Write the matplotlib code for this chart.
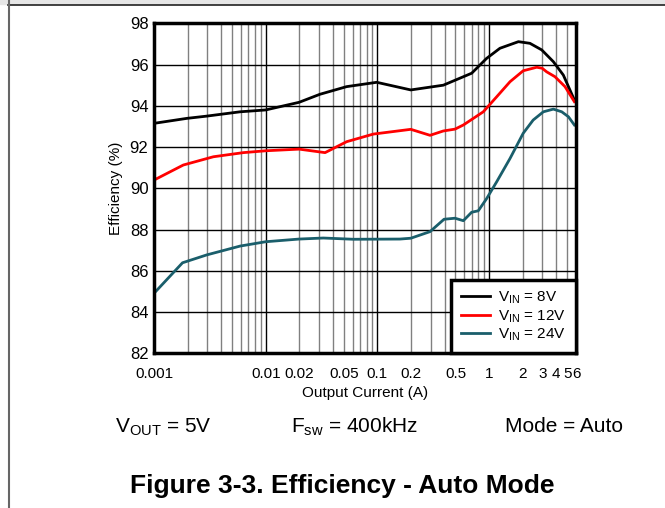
import numpy as np
import matplotlib
matplotlib.use("Agg")
from matplotlib import pyplot as plt
from matplotlib.ticker import FixedLocator, LogLocator, NullFormatter
from matplotlib.patches import Rectangle
from matplotlib.lines import Line2D

plt.rcParams['font.family'] = ['Liberation Sans', 'DejaVu Sans']
plt.rcParams['mathtext.fontset'] = 'custom'
plt.rcParams['mathtext.rm'] = 'Liberation Sans'

# dados (corrente em A, eficiencia em %)
i_8v = [0.001, 0.00196, 0.00296, 0.0059, 0.01, 0.0199, 0.0306, 0.053, 0.0986, 0.199,
        0.389, 0.698, 0.95, 1.25, 1.83, 2.32, 2.96, 3.76, 4.62, 5.8]
ef_8v = [93.15, 93.39, 93.5, 93.71, 93.8, 94.17, 94.56, 94.93, 95.14, 94.77,
         95.0, 95.58, 96.3, 96.79, 97.11, 97.03, 96.71, 96.14, 95.49, 94.28]

i_12v = [0.001, 0.00183, 0.0034, 0.0063, 0.01, 0.0199, 0.034, 0.053, 0.092, 0.199,
         0.296, 0.389, 0.495, 0.588, 0.887, 1.17, 1.54, 2.02, 2.67, 2.99, 3.27, 3.89, 4.78, 5.8]
ef_12v = [90.4, 91.13, 91.53, 91.73, 91.82, 91.9, 91.73, 92.26, 92.63, 92.86,
          92.57, 92.78, 92.87, 93.07, 93.71, 94.44, 95.17, 95.7, 95.87, 95.82, 95.65, 95.41, 94.93, 94.2]

i_24v = [0.001, 0.0018, 0.00296, 0.0059, 0.01, 0.0199, 0.0328, 0.061, 0.159, 0.199,
         0.296, 0.395, 0.495, 0.588, 0.698, 0.8, 0.95, 1.17, 1.54, 2.02, 2.48, 3.06, 3.76, 4.47, 5.13, 5.8]
ef_24v = [84.91, 86.39, 86.77, 87.2, 87.41, 87.54, 87.59, 87.53, 87.54, 87.58,
          87.9, 88.5, 88.55, 88.43, 88.84, 88.91, 89.5, 90.32, 91.45, 92.67, 93.31, 93.71, 93.84, 93.71, 93.47, 93.07]

x_ticks = [0.001, 0.01, 0.02, 0.05, 0.1, 0.2, 0.5, 1, 2, 3, 4, 5, 6]
x_tick_labels = ["0.001", "0.01", "0.02", "0.05", "0.1", "0.2", "0.5", "1", "2", "3", "4", "5", "6"]
y_ticks = [82, 84, 86, 88, 90, 92, 94, 96, 98]

series = [
    (i_8v, ef_8v, "#000000", r"V$_{\mathregular{IN}}$ = 8V"),
    (i_12v, ef_12v, "#ff0000", r"V$_{\mathregular{IN}}$ = 12V"),
    (i_24v, ef_24v, "#1a5e6b", r"V$_{\mathregular{IN}}$ = 24V"),
]

fig = plt.figure(figsize=(6.65, 5.08), dpi=100)
ax = fig.add_axes([0.2316, 0.3045, 0.6346, 0.6496])

ax.set_xscale("log")
ax.set_xlim(0.001, 6)
ax.set_ylim(82, 98)

# grade: decadas em preto, subdivisoes em cinza
ax.xaxis.set_major_locator(FixedLocator([0.001, 0.01, 0.1, 1]))
ax.xaxis.set_major_formatter(NullFormatter())
ax.xaxis.set_minor_locator(LogLocator(base=10, subs=np.arange(2, 10), numticks=20))
ax.xaxis.set_minor_formatter(NullFormatter())
ax.grid(True, which="major", axis="x", color="black", lw=1)
ax.grid(True, which="minor", axis="x", color="#808080", lw=1)
ax.set_yticks(y_ticks)
ax.grid(True, which="major", axis="y", color="black", lw=1)
ax.set_axisbelow(True)

for xs, ys, cor, nome in series:
    ax.plot(xs, ys, color=cor, lw=2, label=nome, zorder=3)

# rotulos do eixo x em posicoes especificas (sem marcas de tick)
for xv, lab in zip(x_ticks, x_tick_labels):
    ax.text(xv, -0.04, lab, transform=ax.get_xaxis_transform(), ha="center", va="top", fontsize=11)
ax.tick_params(axis="both", which="both", length=0)
ax.tick_params(axis="y", labelsize=12, pad=4)

for s in ax.spines.values():
    s.set_linewidth(2.5)
    s.set_zorder(5)

ax.set_xlabel("Output Current (A)", fontsize=11, labelpad=20)
ax.set_ylabel("Efficiency (%)", fontsize=11, labelpad=5)

leg = ax.legend(loc="lower right", fontsize=11, frameon=True, fancybox=False,
                edgecolor="black", framealpha=1, borderaxespad=0, handlelength=1.9,
                labelspacing=0.12, borderpad=0.65, handletextpad=0.55)
leg.get_frame().set_linewidth(2.5)
leg.set_zorder(6)

# textos abaixo do grafico
fig.text(115 / 665, 1 - 432 / 508, r"V$_{\mathregular{OUT}}$ = 5V", fontsize=15, ha="left", va="baseline")
fig.text(291 / 665, 1 - 432 / 508, r"F$_{\mathregular{sw}}$ = 400kHz", fontsize=15, ha="left", va="baseline")
fig.text(505 / 665, 1 - 432 / 508, "Mode = Auto", fontsize=15, ha="left", va="baseline")
fig.text(342 / 665, 1 - 493 / 508, "Figure 3-3. Efficiency - Auto Mode", fontsize=19,
         fontweight="bold", ha="center", va="baseline")

# moldura da pagina
fig.patches.append(Rectangle((0, 1 - 4 / 508), 1, 4 / 508, transform=fig.transFigure,
                             color="#e6e6e6", zorder=0))
fig.lines.append(Line2D([8 / 665, 1], [1 - 5 / 508, 1 - 5 / 508], transform=fig.transFigure,
                        color="#222222", lw=1.2))
fig.lines.append(Line2D([8.5 / 665, 8.5 / 665], [0, 1], transform=fig.transFigure,
                        color="#666666", lw=1.5))

plt.savefig("out.png", dpi=100)
